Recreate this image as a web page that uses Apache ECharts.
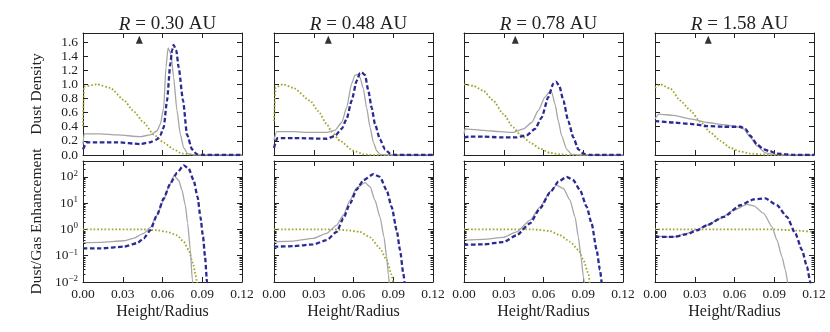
<!DOCTYPE html>
<html>
<head>
<meta charset="utf-8">
<script src="https://cdn.jsdelivr.net/npm/echarts@6/dist/echarts.min.js"></script>
<style>
  html, body { margin: 0; padding: 0; background: #fff; }
  #chart { width: 830px; height: 332px; }
</style>
</head>
<body>
<div id="chart"></div>
<script>
// panel labels and the little marker on top of each density panel
const radii = ['0.30', '0.48', '0.78', '1.58'];
const markerX = [0.0425, 0.041, 0.0387, 0.0402];
const markerY = 1.63;

// top row: dust density  [height/radius, density]
const densGas030 = [[0,0.41],[0.0008,0.97],[0.0106,1.0],[0.0206,0.95],[0.0307,0.78],[0.0382,0.62],[0.0458,0.46],[0.0533,0.29],[0.0609,0.175],[0.0684,0.08],[0.0747,0.02],[0.085,0],[0.12,0]];
const densGray030 = [[0,0.15],[0.0008,0.30],[0.0131,0.30],[0.0257,0.285],[0.0433,0.26],[0.0508,0.285],[0.0558,0.34],[0.0584,0.44],[0.0609,0.67],[0.0626,1.24],[0.0642,1.515],[0.0664,1.43],[0.0684,1.10],[0.0709,0.63],[0.0735,0.29],[0.076,0.10],[0.079,0.02],[0.085,0],[0.12,0]];
const densNavy030 = [[0,0.08],[0.003,0.18],[0.0257,0.18],[0.0433,0.155],[0.0508,0.18],[0.0558,0.22],[0.0584,0.28],[0.0609,0.39],[0.0634,0.77],[0.0659,1.29],[0.0672,1.48],[0.0684,1.56],[0.0704,1.48],[0.0722,1.24],[0.0755,0.77],[0.0785,0.29],[0.0823,0.08],[0.086,0.01],[0.09,0],[0.12,0]];

const densGas048 = [[0,0.48],[0.0013,0.96],[0.007,1.0],[0.0146,0.95],[0.0272,0.77],[0.0335,0.62],[0.0397,0.44],[0.0435,0.33],[0.0498,0.20],[0.0599,0.06],[0.068,0.01],[0.075,0],[0.12,0]];
const densGray048 = [[0,0.21],[0.002,0.33],[0.0146,0.33],[0.0272,0.32],[0.0397,0.32],[0.046,0.35],[0.0511,0.46],[0.0548,0.67],[0.0586,1.01],[0.0611,1.13],[0.0629,1.14],[0.0649,1.10],[0.0674,0.94],[0.0699,0.67],[0.0725,0.39],[0.075,0.18],[0.0775,0.06],[0.08,0.01],[0.085,0],[0.12,0]];
const densNavy048 = [[0,0.10],[0.0025,0.24],[0.0146,0.24],[0.0397,0.23],[0.046,0.27],[0.0511,0.37],[0.0548,0.51],[0.0586,0.77],[0.0624,1.05],[0.0649,1.16],[0.0662,1.17],[0.0687,1.13],[0.0712,0.91],[0.0737,0.67],[0.0762,0.44],[0.08,0.22],[0.0838,0.08],[0.0875,0.02],[0.092,0],[0.12,0]];

const densGas078 = [[0,1.0],[0.007,0.98],[0.0146,0.91],[0.0221,0.77],[0.0297,0.58],[0.0372,0.39],[0.0423,0.29],[0.0498,0.18],[0.0574,0.09],[0.0649,0.03],[0.0725,0.01],[0.08,0],[0.12,0]];
const densGray078 = [[0,0.30],[0.0008,0.37],[0.0146,0.35],[0.0272,0.33],[0.0372,0.32],[0.0448,0.37],[0.0511,0.46],[0.0561,0.63],[0.0611,0.82],[0.0649,0.90],[0.0662,0.89],[0.0687,0.72],[0.0712,0.48],[0.0737,0.27],[0.0775,0.08],[0.0813,0.01],[0.086,0],[0.12,0]];
const densNavy078 = [[0,0.25],[0.0045,0.26],[0.0146,0.26],[0.0272,0.25],[0.0397,0.25],[0.0473,0.28],[0.0536,0.37],[0.0586,0.53],[0.0636,0.82],[0.0674,1.01],[0.0694,1.04],[0.0719,0.98],[0.075,0.77],[0.0787,0.48],[0.0825,0.25],[0.0863,0.08],[0.0901,0.02],[0.095,0],[0.12,0]];

const densGas158 = [[0,0.95],[0.004,1.0],[0.0116,0.94],[0.0191,0.77],[0.0267,0.63],[0.0342,0.47],[0.0418,0.32],[0.0493,0.20],[0.0569,0.10],[0.0644,0.05],[0.072,0.02],[0.0795,0.01],[0.086,0],[0.12,0]];
const densGray158 = [[0,0.51],[0.0028,0.58],[0.0141,0.56],[0.0267,0.51],[0.0392,0.46],[0.0518,0.43],[0.0619,0.40],[0.0669,0.37],[0.072,0.25],[0.077,0.13],[0.0833,0.03],[0.0896,0.01],[0.095,0],[0.12,0]];
const densNavy158 = [[0,0.48],[0.0141,0.46],[0.0267,0.44],[0.0392,0.41],[0.0518,0.40],[0.0644,0.40],[0.0682,0.37],[0.072,0.27],[0.077,0.15],[0.082,0.08],[0.087,0.05],[0.0921,0.02],[0.0996,0.01],[0.105,0],[0.12,0]];

// bottom row: dust/gas enhancement (log)
const enhGas030 = [[0,1],[0.0458,1],[0.0558,0.93],[0.0634,0.81],[0.0709,0.60],[0.076,0.34],[0.0797,0.166],[0.083,0.051],[0.0848,0.021],[0.086,0.010],[0.087,0.005]];
const enhGray030 = [[0,0.31],[0.0131,0.32],[0.0307,0.37],[0.0382,0.46],[0.0458,0.71],[0.0508,1.19],[0.0558,3.5],[0.0609,12.9],[0.0647,41.7],[0.0687,110],[0.0722,74],[0.0747,31],[0.0772,8.3],[0.079,1.7],[0.081,0.166],[0.0825,0.012],[0.0835,0.005]];
const enhNavy030 = [[0,0.19],[0.0131,0.19],[0.0307,0.22],[0.0408,0.30],[0.0458,0.46],[0.0508,0.93],[0.0558,3.5],[0.0609,15],[0.0659,56],[0.0709,141],[0.076,275],[0.0797,209],[0.0835,74],[0.0865,17],[0.0886,3.0],[0.0906,0.52],[0.0921,0.091],[0.0936,0.010],[0.0943,0.004]];

const enhGas048 = [[0,1],[0.0448,1],[0.0548,0.93],[0.0649,0.81],[0.0725,0.50],[0.08,0.19],[0.085,0.069],[0.0888,0.019],[0.0901,0.009],[0.091,0.005]];
const enhGray048 = [[0,0.34],[0.0146,0.36],[0.0297,0.46],[0.0397,0.71],[0.0473,1.45],[0.0523,3.5],[0.0574,13],[0.0624,39],[0.0687,60],[0.0725,42],[0.0762,12.9],[0.08,3.0],[0.083,0.52],[0.085,0.091],[0.0863,0.019],[0.087,0.009]];
const enhNavy048 = [[0,0.22],[0.0146,0.23],[0.0297,0.27],[0.0397,0.39],[0.0473,0.81],[0.0523,2.6],[0.0574,9.7],[0.0624,33],[0.0674,74],[0.075,126],[0.08,100],[0.085,31],[0.0888,7.2],[0.0926,0.93],[0.0951,0.166],[0.0976,0.021],[0.0986,0.009]];

const enhGas078 = [[0,1],[0.0523,1],[0.0649,0.87],[0.0725,0.60],[0.08,0.34],[0.0863,0.166],[0.0901,0.069],[0.0939,0.021],[0.0951,0.009],[0.096,0.005]];
const enhGray078 = [[0,0.39],[0.0146,0.42],[0.0297,0.50],[0.0397,0.81],[0.0498,2.24],[0.0574,7.2],[0.0649,27],[0.0699,48],[0.075,36],[0.08,12.9],[0.0838,3.0],[0.0863,0.52],[0.0883,0.091],[0.0901,0.016],[0.0908,0.009]];
const enhNavy078 = [[0,0.26],[0.0146,0.27],[0.0297,0.33],[0.0397,0.60],[0.0498,1.7],[0.0574,6.3],[0.0649,25],[0.0712,65],[0.0775,100],[0.0825,74],[0.0876,31],[0.0926,7.2],[0.0963,1.7],[0.1001,0.166],[0.1026,0.029],[0.1039,0.009]];

const enhGas158 = [[0,1],[0.0896,1],[0.0996,0.95],[0.107,0.90],[0.12,0.80]];
const enhGray158 = [[0,0.56],[0.0141,0.52],[0.0242,0.71],[0.0317,1.0],[0.0392,1.45],[0.0493,2.6],[0.0594,5.4],[0.0694,8.9],[0.0745,7.8],[0.082,4.1],[0.0883,1.26],[0.0921,0.39],[0.0958,0.091],[0.0984,0.029],[0.1001,0.009]];
const enhNavy158 = [[0,0.52],[0.0141,0.52],[0.0242,0.66],[0.0317,0.93],[0.0392,1.45],[0.0518,3.0],[0.0644,8.3],[0.0745,13.8],[0.0833,15.1],[0.0921,8.3],[0.0996,3.0],[0.1059,0.71],[0.1109,0.166],[0.1147,0.038],[0.1172,0.010],[0.118,0.005]];

const densSets = [
    [densGas030, densGray030, densNavy030],
    [densGas048, densGray048, densNavy048],
    [densGas078, densGray078, densNavy078],
    [densGas158, densGray158, densNavy158]
];
const enhSets = [
    [enhGas030, enhGray030, enhNavy030],
    [enhGas048, enhGray048, enhNavy048],
    [enhGas078, enhGray078, enhNavy078],
    [enhGas158, enhGray158, enhNavy158]
];

// minor ticks of the log axis: 2..9 times each decade
let minorTicks = [];
for (let e = -2; e <= 2; e++) {
    for (let k = 2; k <= 9; k++) {
        let v = k * Math.pow(10, e);
        if (v < 400) minorTicks.push([0, v]);
    }
}

const font = 'Liberation Serif';
const ink = '#222';
const lineStyles = [
    {color: '#a3a329', width: 1.8, type: [1.6, 2], cap: 'butt'},
    {color: '#a6a6a6', width: 1.3, type: 'solid'},
    {color: '#2b2a93', width: 2.3, type: [4.5, 2.5], cap: 'butt'}
];

const panelLeft = [83, 274, 464, 655];
const panelW = 159;
const rowTop = [33, 161];
const rowH = [122, 121];

const chart = echarts.init(document.getElementById('chart'));

let grids = [], xAxes = [], yAxes = [], series = [], titles = [];

function supLabel(v) {
    let e = Math.round(Math.log10(v));
    return '10{sup|' + (e < 0 ? '\u2212' + (-e) : e) + '}';
}

function renderMinor(params, api) {
    let v = api.value(1);
    let a = api.coord([0, v]);
    let b = api.coord([0.12, v]);
    let y = Math.round(a[1]) + 0.5;
    return {
        type: 'group',
        children: [
            {type: 'line', shape: {x1: a[0], y1: y, x2: a[0] + 2.5, y2: y}, style: {stroke: ink, lineWidth: 1}},
            {type: 'line', shape: {x1: b[0] - 2.5, y1: y, x2: b[0], y2: y}, style: {stroke: ink, lineWidth: 1}}
        ]
    };
}

for (let row = 0; row < 2; row++) {
    for (let col = 0; col < 4; col++) {
        let g = row * 4 + col;
        grids.push({
            left: panelLeft[col], top: rowTop[row], width: panelW, height: rowH[row],
            outerBoundsMode: 'none', containLabel: false
        });
        let tick = {show: true, inside: true, length: 5, lineStyle: {color: ink}};
        let line = {show: true, onZero: false, lineStyle: {color: ink, width: 1}};
        let xBase = {
            type: 'value', gridIndex: g, min: 0, max: 0.12, interval: 0.03,
            axisLine: line, axisTick: tick, splitLine: {show: false}
        };
        xAxes.push(Object.assign({}, xBase, {
            position: 'bottom',
            axisLabel: {
                show: row === 1, margin: 5, fontFamily: font, fontSize: 13.5, color: ink,
                formatter: v => v.toFixed(2)
            },
            name: row === 1 ? 'Height/Radius' : '', nameLocation: 'middle', nameGap: 22,
            nameTextStyle: {fontFamily: font, fontSize: 16, color: ink}
        }));
        xAxes.push(Object.assign({}, xBase, {position: 'top', axisLabel: {show: false}}));

        let yBase;
        if (row === 0) {
            yBase = {type: 'value', gridIndex: g, min: 0, max: 1.727, interval: 0.2};
        } else {
            yBase = {type: 'log', gridIndex: g, min: 0.01, max: 400, logBase: 10, splitNumber: 5};
        }
        Object.assign(yBase, {axisLine: line, axisTick: tick, splitLine: {show: false}});
        yAxes.push(Object.assign({}, yBase, {
            position: 'left',
            axisLabel: {
                show: col === 0, margin: 5, fontFamily: font, fontSize: 13.5, color: ink,
                showMaxLabel: false,
                formatter: row === 0 ? (v => v.toFixed(1)) : supLabel,
                rich: {sup: {fontFamily: font, fontSize: 9, color: ink, padding: [0, 0, 7, 0]}}
            },
            name: col === 0 ? (row === 0 ? 'Dust Density' : 'Dust/Gas Enhancement') : '',
            nameLocation: 'middle', nameGap: 38,
            nameTextStyle: {fontFamily: font, fontSize: 15.5, color: ink}
        }));
        yAxes.push(Object.assign({}, yBase, {position: 'right', axisLabel: {show: false}}));

        let sets = row === 0 ? densSets[col] : enhSets[col];
        sets.forEach((data, k) => {
            series.push({
                type: 'line', xAxisIndex: 2 * g, yAxisIndex: 2 * g, data: data,
                showSymbol: false, symbol: 'none', smooth: 0.2, smoothMonotone: 'x',
                lineStyle: lineStyles[k], silent: true, clip: true, z: 2 + k
            });
        });

        if (row === 0) {
            series.push({
                type: 'scatter', xAxisIndex: 2 * g, yAxisIndex: 2 * g,
                data: [[markerX[col], markerY]], symbol: 'triangle', symbolSize: [7, 8],
                itemStyle: {color: '#000'}, silent: true, z: 6
            });
            titles.push({
                text: '{it|R} = ' + radii[col] + ' AU',
                left: panelLeft[col] + panelW / 2, top: 10, textAlign: 'center',
                textStyle: {
                    fontFamily: font, fontSize: 19, fontWeight: 'normal', color: ink,
                    rich: {it: {fontFamily: font, fontSize: 19, fontStyle: 'italic', color: ink}}
                }
            });
        } else {
            series.push({
                type: 'custom', xAxisIndex: 2 * g, yAxisIndex: 2 * g,
                data: minorTicks, renderItem: renderMinor, silent: true, clip: false, z: 7
            });
        }
    }
}

chart.setOption({
    animation: false,
    backgroundColor: '#fff',
    title: titles,
    grid: grids,
    xAxis: xAxes,
    yAxis: yAxes,
    series: series
});
</script>
</body>
</html>
